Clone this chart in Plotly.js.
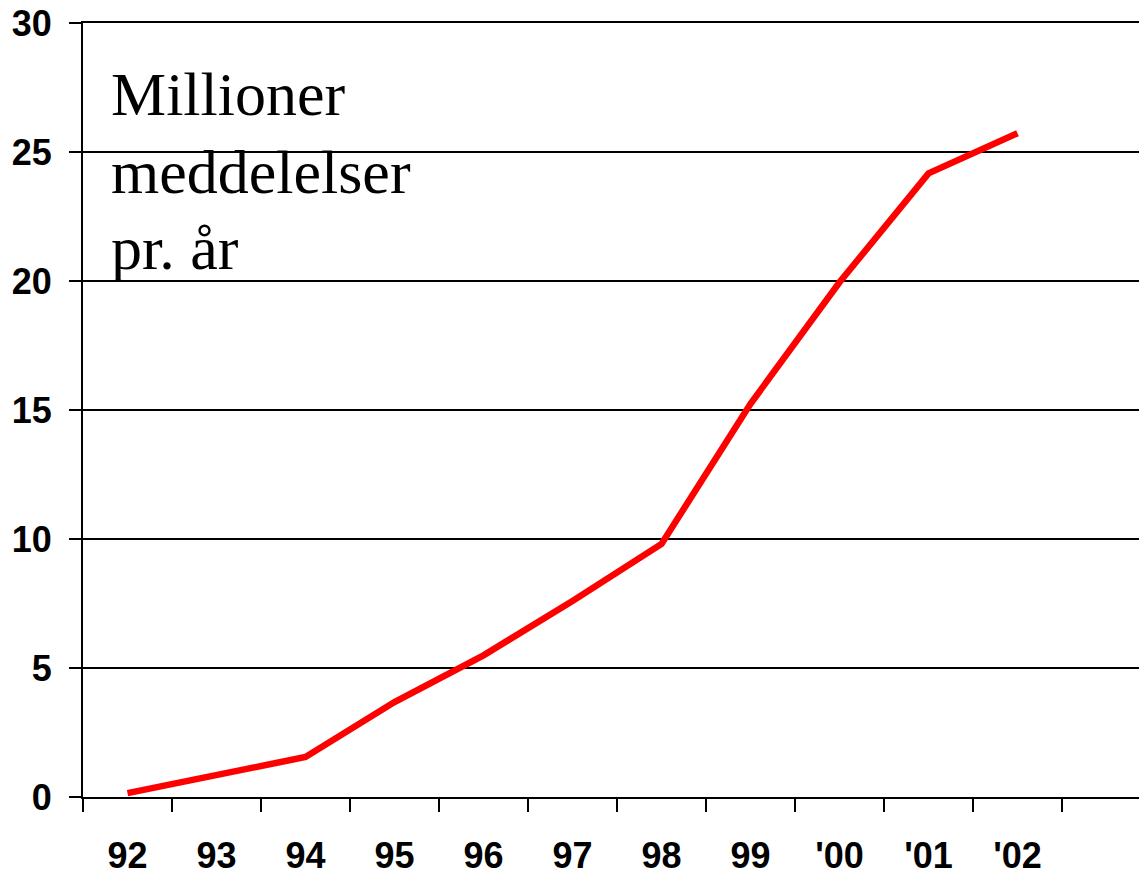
<!DOCTYPE html>
<html>
<head>
<meta charset="utf-8">
<script src="https://cdn.plot.ly/plotly-3.0.1.min.js"></script>
<style>html,body{margin:0;padding:0;background:#fff;}#chart{width:1139px;height:875px;}</style>
</head>
<body>
<div id="chart"></div>
<script>
const years = ["92", "93", "94", "95", "96", "97", "98", "99", "'00", "'01", "'02"];
const messages = [0.15, 0.84, 1.55, 3.68, 5.49, 7.6, 9.81, 15.24, 19.95, 24.17, 25.73];
const yTickValues = [0, 5, 10, 15, 20, 25, 30];
const annotationLines = ["Millioner", "meddelelser", "pr. år"];

const tickFont = {family: "Liberation Sans, Arial, sans-serif", size: 36, color: "#000", weight: "bold"};

const trace = {
  type: "scatter",
  mode: "lines",
  x: years,
  y: messages,
  line: {color: "#ff0000", width: 6.5, shape: "linear"},
  hoverinfo: "skip"
};

// plot area geometry (pixels) used only to place the free text lines
const plotTop = 23, plotBottom = 797;
const lineTopsPx = [58, 135.5, 212];

const layout = {
  width: 1139,
  height: 875,
  margin: {l: 83, r: 0, t: 23, b: 78, pad: 0},
  paper_bgcolor: "#ffffff",
  plot_bgcolor: "#ffffff",
  showlegend: false,
  xaxis: {
    type: "category",
    categoryarray: years,
    range: [-0.5, 11.365],
    tickson: "boundaries",
    ticks: "outside",
    ticklen: 13,
    tickwidth: 2,
    tickcolor: "#000",
    showline: true,
    linecolor: "#000",
    linewidth: 2,
    mirror: true,
    showgrid: false,
    zeroline: false,
    tickfont: tickFont,
    ticklabelstandoff: 26
  },
  yaxis: {
    range: [0, 30],
    tickvals: yTickValues,
    ticktext: yTickValues.map(String),
    ticks: "outside",
    ticklen: 12,
    tickwidth: 2,
    tickcolor: "#000",
    showline: true,
    linecolor: "#000",
    linewidth: 2,
    showgrid: true,
    gridcolor: "#000",
    gridwidth: 2,
    zeroline: false,
    tickfont: tickFont,
    ticklabelstandoff: 10
  },
  annotations: annotationLines.map((t, i) => ({
    text: t,
    xref: "paper", yref: "paper",
    x: 0.0247,
    y: (plotBottom - lineTopsPx[i]) / (plotBottom - plotTop),
    xanchor: "left", yanchor: "top",
    align: "left",
    showarrow: false,
    font: {family: "Liberation Serif, Times New Roman, serif", size: 62, color: "#000"}
  }))
};

Plotly.newPlot("chart", [trace], layout, {displayModeBar: false, staticPlot: true});
</script>
</body>
</html>
